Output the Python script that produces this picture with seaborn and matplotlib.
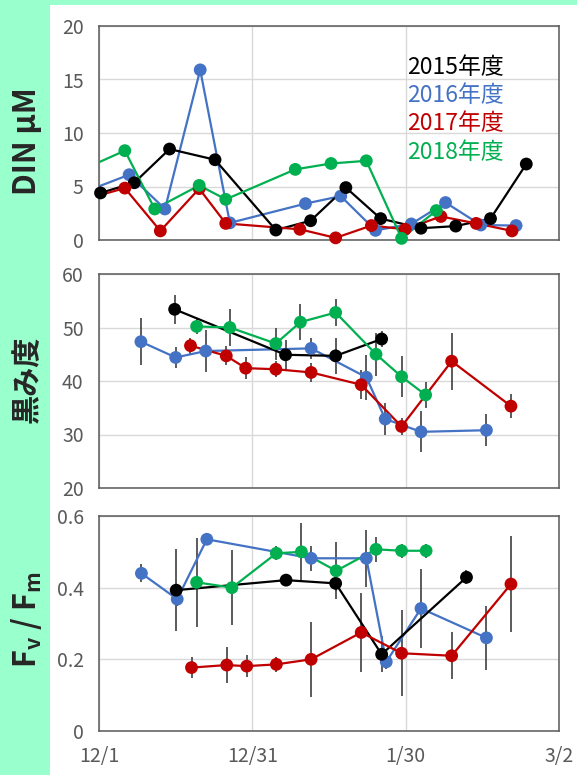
import numpy as np
import pandas as pd
import matplotlib
matplotlib.use("Agg")
import matplotlib.pyplot as plt
import seaborn as sns
from matplotlib.patches import Rectangle

sns.set_style("white")
plt.rcParams["font.family"] = ["Noto Sans CJK JP", "DejaVu Sans"]
plt.rcParams["axes.unicode_minus"] = False

# ---------------- data ----------------
years = ["2015年度", "2016年度", "2017年度", "2018年度"]
palette = {"2015年度": "#000000", "2016年度": "#4472C4",
           "2017年度": "#C00000", "2018年度": "#00B050"}
draw_order = ["2016年度", "2015年度", "2017年度", "2018年度"]

xtick_pos = [0, 30, 60, 90]
xtick_labels = ["12/1", "12/31", "1/30", "3/2"]

# DIN (uM)
din_days_2015 = [0.3, 6.9, 13.8, 22.7, 34.6, 41.4, 48.3, 55.1, 63.0, 69.8, 76.6, 83.6]
din_vals_2015 = [4.4, 5.35, 8.5, 7.5, 0.93, 1.8, 4.9, 2.0, 1.1, 1.3, 2.0, 7.1]
din_days_2016 = [-5, 5.9, 12.9, 19.8, 25.6, 40.4, 47.3, 54.1, 61.1, 67.8, 74.7, 81.6]
din_vals_2016 = [4.1, 6.1, 2.9, 15.9, 1.6, 3.4, 4.1, 0.9, 1.5, 3.5, 1.4, 1.35]
din_days_2017 = [-5, 5.05, 12.0, 19.6, 24.8, 39.3, 46.3, 53.3, 59.9, 66.9, 73.8, 80.8]
din_vals_2017 = [3.5, 4.85, 0.85, 4.8, 1.55, 1.0, 0.2, 1.35, 1.0, 2.2, 1.55, 0.85]
din_days_2018 = [-5, 5.05, 10.9, 19.6, 24.8, 38.4, 45.4, 52.3, 59.2, 66.0]
din_vals_2018 = [6.2, 8.35, 2.9, 5.1, 3.8, 6.6, 7.15, 7.4, 0.15, 2.75]

# 黒み度
kuro_days_2015 = [14.8, 36.5, 46.3, 55.3]
kuro_vals_2015 = [53.4, 44.9, 44.7, 47.85]
kuro_errs_2015 = [2.7, 2.8, 3.4, 1.5]
kuro_days_2016 = [8.2, 15.0, 20.9, 41.5, 52.3, 56.0, 63.0, 75.8]
kuro_vals_2016 = [47.35, 44.4, 45.6, 46.1, 40.7, 32.9, 30.5, 30.8]
kuro_errs_2016 = [4.4, 2.0, 4.0, 2.0, 4.2, 2.9, 3.8, 3.0]
kuro_days_2017 = [17.9, 24.9, 28.7, 34.6, 41.5, 51.3, 59.2, 69.0, 80.6]
kuro_vals_2017 = [46.6, 44.7, 42.4, 42.2, 41.6, 39.3, 31.5, 43.7, 35.3]
kuro_errs_2017 = [1.5, 1.8, 2.0, 1.5, 1.7, 2.7, 1.5, 5.3, 2.3]
kuro_days_2018 = [19.1, 25.6, 34.6, 39.4, 46.3, 54.2, 59.2, 63.9]
kuro_vals_2018 = [50.2, 50.0, 47.0, 51.0, 52.8, 45.0, 40.8, 37.4]
kuro_errs_2018 = [1.5, 3.5, 3.0, 3.3, 2.5, 4.0, 3.8, 2.5]

# Fv/Fm
fv_days_2015 = [15.1, 36.6, 46.3, 55.3, 71.9]
fv_vals_2015 = [0.393, 0.421, 0.412, 0.214, 0.429]
fv_errs_2015 = [0.115, 0.01, 0.02, 0.05, 0.02]
fv_days_2016 = [8.3, 15.3, 21.1, 41.5, 52.3, 56.2, 63.0, 75.8]
fv_vals_2016 = [0.44, 0.368, 0.535, 0.482, 0.482, 0.193, 0.342, 0.26]
fv_errs_2016 = [0.025, 0.02, 0.0, 0.035, 0.08, 0.02, 0.11, 0.09]
fv_days_2017 = [18.1, 25.0, 28.9, 34.7, 41.5, 51.3, 59.2, 69.0, 80.6]
fv_vals_2017 = [0.177, 0.184, 0.181, 0.186, 0.2, 0.275, 0.217, 0.21, 0.41]
fv_errs_2017 = [0.03, 0.05, 0.03, 0.02, 0.105, 0.11, 0.12, 0.065, 0.135]
fv_days_2018 = [19.1, 26.0, 34.7, 39.6, 46.4, 54.2, 59.2, 64.0]
fv_vals_2018 = [0.415, 0.40, 0.496, 0.50, 0.447, 0.507, 0.503, 0.503]
fv_errs_2018 = [0.125, 0.105, 0.02, 0.08, 0.08, 0.035, 0.02, 0.02]


def make_df(days_list, vals_list, errs_list=None):
    frames = []
    for i, yr in enumerate(years):
        d = {"day": days_list[i], "val": vals_list[i], "year": yr}
        d["err"] = errs_list[i] if errs_list is not None else [0] * len(days_list[i])
        frames.append(pd.DataFrame(d))
    return pd.concat(frames, ignore_index=True)


df_din = make_df([din_days_2015, din_days_2016, din_days_2017, din_days_2018],
                 [din_vals_2015, din_vals_2016, din_vals_2017, din_vals_2018])
df_kuro = make_df([kuro_days_2015, kuro_days_2016, kuro_days_2017, kuro_days_2018],
                  [kuro_vals_2015, kuro_vals_2016, kuro_vals_2017, kuro_vals_2018],
                  [kuro_errs_2015, kuro_errs_2016, kuro_errs_2017, kuro_errs_2018])
df_fv = make_df([fv_days_2015, fv_days_2016, fv_days_2017, fv_days_2018],
                [fv_vals_2015, fv_vals_2016, fv_vals_2017, fv_vals_2018],
                [fv_errs_2015, fv_errs_2016, fv_errs_2017, fv_errs_2018])

# ---------------- figure ----------------
W, H = 577, 775
fig = plt.figure(figsize=(W / 100, H / 100), dpi=100)
fig.patch.set_facecolor("#99FFCC")
fig.patches.append(Rectangle((50 / W, 0), 1 - 50 / W, 1 - 5 / H,
                             transform=fig.transFigure, facecolor="white",
                             edgecolor="none", zorder=-10))


def fy(px):
    return 1 - px / H


panels = [
    (df_din, 26, 240, (0, 20), [0, 5, 10, 15, 20], ["0", "5", "10", "15", "20"], False),
    (df_kuro, 274, 488, (20, 60), [20, 30, 40, 50, 60], ["20", "30", "40", "50", "60"], True),
    (df_fv, 516, 731, (0, 0.6), [0, 0.2, 0.4, 0.6], ["0", "0.2", "0.4", "0.6"], True),
]

axes = []
for idx, (df, top, bot, ylim, yt, ytl, has_err) in enumerate(panels):
    ax = fig.add_axes([99 / W, fy(bot), (559 - 99) / W, (bot - top) / H])
    ax.set_zorder(5)
    ax.set_facecolor("white")
    for yr in draw_order:
        sub = df[df["year"] == yr]
        c = palette[yr]
        if has_err:
            ax.errorbar(sub["day"], sub["val"], yerr=sub["err"], fmt="none",
                        ecolor="#404040", elinewidth=1.2, capsize=0, zorder=2)
        sns.lineplot(data=sub, x="day", y="val", color=c, sort=False,
                     estimator=None, linewidth=1.6, ax=ax, legend=False, zorder=3)
        vis = sub[sub["day"] >= 0]
        sns.scatterplot(data=vis, x="day", y="val", color=c, s=85,
                        edgecolor="none", linewidth=0, ax=ax, legend=False,
                        clip_on=False, zorder=4)
    ax.set_xlim(0, 90)
    ax.set_ylim(*ylim)
    ax.set_xticks(xtick_pos)
    ax.set_yticks(yt)
    ax.set_yticklabels(ytl)
    ax.set_xlabel("")
    ax.set_ylabel("")
    ax.grid(True, color="#d9d9d9", linewidth=1.0, zorder=0)
    ax.set_axisbelow(True)
    ax.tick_params(axis="both", length=0, labelsize=14, labelcolor="#595959")
    ax.tick_params(axis="y", pad=11)
    ax.tick_params(axis="x", pad=11)
    if idx == 2:
        ax.set_xticklabels(xtick_labels)
    else:
        ax.tick_params(axis="x", labelbottom=False)
    for s in ax.spines.values():
        s.set_color("#595959")
        s.set_linewidth(1.1)
        s.set_visible(True)
    axes.append(ax)

# legend as colored text
for i, yr in enumerate(years):
    fig.text(407 / W, fy(67 + 28.5 * i), yr, color=palette[yr], fontsize=16.5,
             ha="left", va="center", zorder=10)

# y labels
fig.text(27 / W, fy(141), "DIN μM", rotation=90, fontsize=22, fontweight="bold",
         ha="center", va="center")
fig.text(27 / W, fy(379), "黒み度", rotation=90, fontsize=21, fontweight="bold",
         ha="center", va="center")
fig.text(27 / W, fy(620), r"F$_\mathregular{v}$ / F$_\mathregular{m}$", rotation=90,
         fontsize=22, fontweight="bold", ha="center", va="center")

fig.savefig("out.png", dpi=100, facecolor=fig.get_facecolor())
